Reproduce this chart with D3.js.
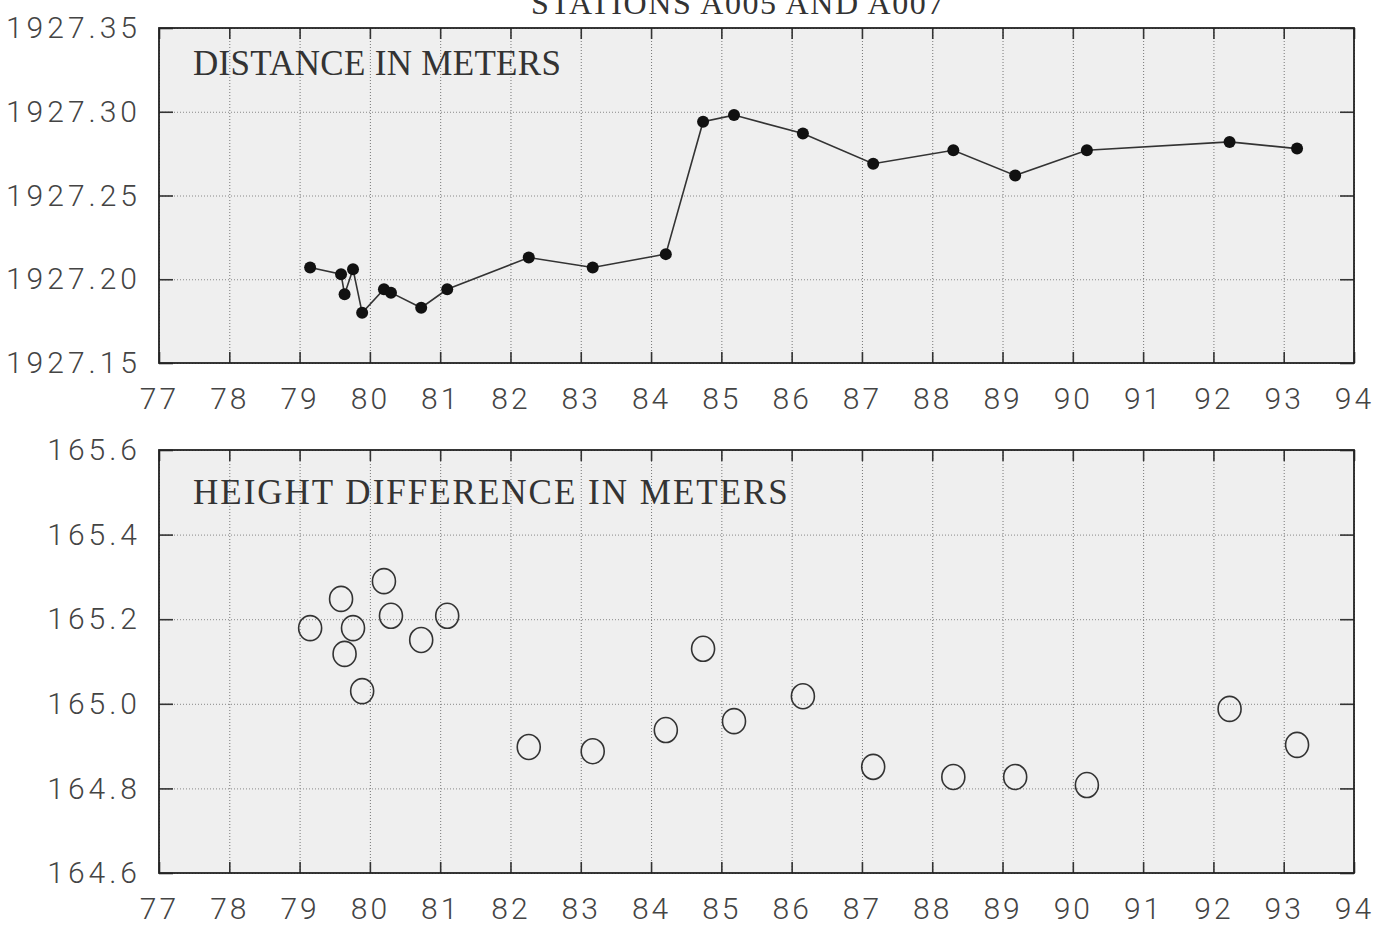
<!DOCTYPE html>
<html>
<head>
<meta charset="utf-8">
<script src="https://cdn.jsdelivr.net/npm/d3@7"></script>
<style>
  body { margin: 0; background: #fff; }
  svg { display: block; }
</style>
</head>
<body>
<svg id="chart" width="1392" height="928"></svg>
<script>
const title = "STATIONS A005 AND A007"

// observation epochs (years, 19xx)
const epochs = [79.15, 79.59, 79.64, 79.76, 79.89, 80.20, 80.30, 80.73, 81.10, 82.26,
                83.17, 84.21, 84.74, 85.18, 86.16, 87.16, 88.30, 89.18, 90.20, 92.23, 93.19]

const distance = [1927.207, 1927.203, 1927.191, 1927.206, 1927.180, 1927.194, 1927.192,
                  1927.183, 1927.194, 1927.213, 1927.207, 1927.215, 1927.294, 1927.298,
                  1927.287, 1927.269, 1927.277, 1927.262, 1927.277, 1927.282, 1927.278]

const heightDiff = [165.179, 165.248, 165.118, 165.179, 165.030, 165.290, 165.208, 165.151,
                    165.208, 164.898, 164.888, 164.938, 165.130, 164.959, 165.018, 164.851,
                    164.827, 164.827, 164.808, 164.988, 164.903]

const xTicks = [77, 78, 79, 80, 81, 82, 83, 84, 85, 86, 87, 88, 89, 90, 91, 92, 93, 94]
const distTicks = [1927.15, 1927.20, 1927.25, 1927.30, 1927.35]
const heightTicks = [164.6, 164.8, 165.0, 165.2, 165.4, 165.6]

const left = 159, right = 1354

const svg = d3.select("#chart")

svg.append("text")
  .attr("x", 738).attr("y", 14)
  .attr("text-anchor", "middle")
  .style("font-family", "'Liberation Serif', serif")
  .style("font-size", "32px")
  .style("letter-spacing", "1.6px")
  .attr("fill", "#333")
  .text(title)

function panel(cfg) {
  const x = d3.scaleLinear().domain([77, 94]).range([left, right])
  const y = d3.scaleLinear().domain(cfg.domain).range([cfg.bottom, cfg.top])
  const g = svg.append("g")

  // scanned paper tone behind the plot
  g.append("rect")
    .attr("x", left).attr("y", cfg.top)
    .attr("width", right - left).attr("height", cfg.bottom - cfg.top)
    .attr("fill", "#efefef")

  // grid
  g.append("g")
    .attr("transform", `translate(0,${cfg.bottom})`)
    .call(d3.axisBottom(x).tickValues(xTicks).tickSize(-(cfg.bottom - cfg.top)).tickFormat(""))
    .call(a => a.select(".domain").remove())
    .call(a => a.selectAll("line").attr("stroke", "#777").attr("stroke-width", 1).attr("stroke-dasharray", "1,2"))

  g.append("g")
    .attr("transform", `translate(${left},0)`)
    .call(d3.axisLeft(y).tickValues(cfg.ticks).tickSize(-(right - left)).tickFormat(""))
    .call(a => a.select(".domain").remove())
    .call(a => a.selectAll("line").attr("stroke", "#888").attr("stroke-width", 1).attr("stroke-dasharray", "1,2"))

  // inner tick marks on all four sides
  const tk = [
    [d3.axisBottom(x).tickValues(xTicks).tickSize(-11), `translate(0,${cfg.bottom})`],
    [d3.axisTop(x).tickValues(xTicks).tickSize(-11), `translate(0,${cfg.top})`],
    [d3.axisLeft(y).tickValues(cfg.ticks).tickSize(-14), `translate(${left},0)`],
    [d3.axisRight(y).tickValues(cfg.ticks).tickSize(-14), `translate(${right},0)`]
  ]
  tk.forEach(([ax, tr]) => {
    g.append("g").attr("transform", tr)
      .call(ax.tickFormat(""))
      .call(a => a.select(".domain").remove())
      .call(a => a.selectAll("line").attr("stroke", "#333").attr("stroke-width", 1.6))
  })

  g.append("rect")
    .attr("x", left).attr("y", cfg.top)
    .attr("width", right - left).attr("height", cfg.bottom - cfg.top)
    .attr("fill", "none").attr("stroke", "#222").attr("stroke-width", 1.8)

  // tick labels
  g.append("g")
    .attr("transform", `translate(0,${cfg.bottom + 35})`)
    .call(d3.axisBottom(x).tickValues(xTicks).tickSize(0).tickPadding(0))
    .call(a => a.select(".domain").remove())
    .call(a => a.selectAll("text")
      .style("font-family", "Roboto, 'DejaVu Sans', sans-serif")
      .style("font-weight", 300)
      .style("font-size", "30px")
      .style("letter-spacing", "3px")
      .attr("fill", "#444")
      .attr("dy", "0.35em"))

  g.append("g")
    .attr("transform", `translate(${left - 18},0)`)
    .call(d3.axisLeft(y).tickValues(cfg.ticks).tickSize(0).tickPadding(0).tickFormat(d3.format(cfg.fmt)))
    .call(a => a.select(".domain").remove())
    .call(a => a.selectAll("text")
      .style("font-family", "Roboto, 'DejaVu Sans', sans-serif")
      .style("font-weight", 300)
      .style("font-size", "30px")
      .style("letter-spacing", "4px")
      .attr("fill", "#444"))

  g.append("text")
    .attr("x", 193).attr("y", cfg.top + cfg.labelDy)
    .style("font-family", "'Liberation Serif', serif")
    .style("font-size", "35px")
    .style("letter-spacing", cfg.labelSpacing)
    .attr("fill", "#333")
    .text(cfg.label)

  return { x, y, g }
}

const distPanel = panel({ domain: [1927.15, 1927.35], top: 28, bottom: 363, ticks: distTicks, fmt: ".2f",
                          label: "DISTANCE IN METERS", labelDy: 47, labelSpacing: "0.3px" })
const heightPanel = panel({ domain: [164.6, 165.6], top: 450, bottom: 873, ticks: heightTicks, fmt: ".1f",
                            label: "HEIGHT DIFFERENCE IN METERS", labelDy: 54, labelSpacing: "2px" })

const distData = epochs.map((e, i) => [e, distance[i]])
const heightData = epochs.map((e, i) => [e, heightDiff[i]])

distPanel.g.append("path")
  .datum(distData)
  .attr("fill", "none")
  .attr("stroke", "#333")
  .attr("stroke-width", 1.6)
  .attr("d", d3.line().x(d => distPanel.x(d[0])).y(d => distPanel.y(d[1])))

distPanel.g.selectAll("circle.dot")
  .data(distData)
  .enter()
  .append("circle")
  .attr("class", "dot")
  .attr("cx", d => distPanel.x(d[0]))
  .attr("cy", d => distPanel.y(d[1]))
  .attr("r", 6)
  .attr("fill", "#111")

heightPanel.g.selectAll("ellipse")
  .data(heightData)
  .enter()
  .append("ellipse")
  .attr("cx", d => heightPanel.x(d[0]))
  .attr("cy", d => heightPanel.y(d[1]))
  .attr("rx", 11.5)
  .attr("ry", 12.5)
  .attr("fill", "none")
  .attr("stroke", "#333")
  .attr("stroke-width", 1.6)
</script>
</body>
</html>
